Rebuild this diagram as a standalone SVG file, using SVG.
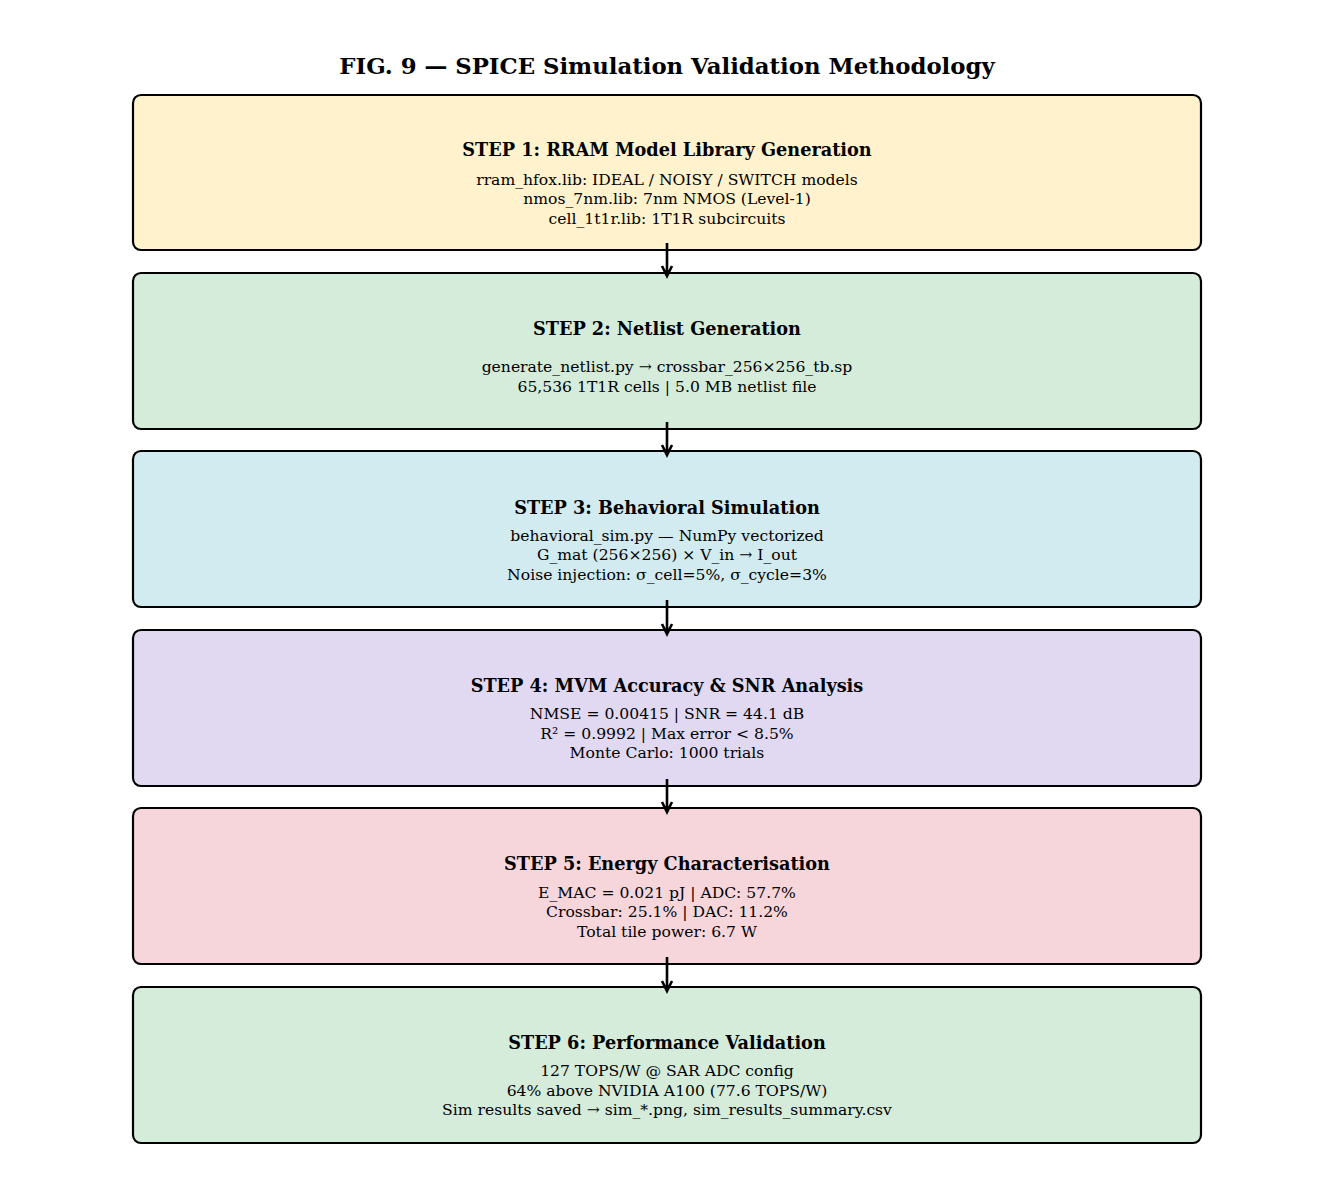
<svg xmlns="http://www.w3.org/2000/svg" width="1335" height="1185" viewBox="0 0 1335 1185">
<style>
.b{stroke:#000;stroke-width:2.2}
text{font-family:"DejaVu Serif",serif;text-anchor:middle;fill:#000}
.t{font-size:17.7px;font-weight:bold}
.s{font-size:15.6px}
.h{font-size:22.8px;font-weight:bold}
.a{stroke:#000;stroke-width:2.6;fill:none}
</style>
<rect width="1335" height="1185" fill="#fff"/>
<text class="h" x="667" y="74">FIG. 9 — SPICE Simulation Validation Methodology</text>
<g id="step1"><rect class="b" x="133" y="95" width="1068" height="155" rx="8" fill="#fff2cc"/>
<text class="t" x="667" y="156">STEP 1: RRAM Model Library Generation</text>
<text class="s" x="667" y="185">rram_hfox.lib: IDEAL / NOISY / SWITCH models</text>
<text class="s" x="667" y="204">nmos_7nm.lib: 7nm NMOS (Level-1)</text>
<text class="s" x="667" y="224">cell_1t1r.lib: 1T1R subcircuits</text></g>
<g id="step2"><rect class="b" x="133" y="273" width="1068" height="156" rx="8" fill="#d5ecdb"/>
<text class="t" x="667" y="335">STEP 2: Netlist Generation</text>
<text class="s" x="667" y="372">generate_netlist.py → crossbar_256×256_tb.sp</text>
<text class="s" x="667" y="392">65,536 1T1R cells | 5.0 MB netlist file</text></g>
<g id="step3"><rect class="b" x="133" y="451" width="1068" height="156" rx="8" fill="#d2ebf0"/>
<text class="t" x="667" y="514">STEP 3: Behavioral Simulation</text>
<text class="s" x="667" y="541">behavioral_sim.py — NumPy vectorized</text>
<text class="s" x="667" y="560">G_mat (256×256) × V_in → I_out</text>
<text class="s" x="667" y="580">Noise injection: σ_cell=5%, σ_cycle=3%</text></g>
<g id="step4"><rect class="b" x="133" y="630" width="1068" height="156" rx="8" fill="#e1d9f1"/>
<text class="t" x="667" y="692">STEP 4: MVM Accuracy &amp; SNR Analysis</text>
<text class="s" x="667" y="719">NMSE = 0.00415 | SNR = 44.1 dB</text>
<text class="s" x="667" y="739">R² = 0.9992 | Max error &lt; 8.5%</text>
<text class="s" x="667" y="758">Monte Carlo: 1000 trials</text></g>
<g id="step5"><rect class="b" x="133" y="808" width="1068" height="156" rx="8" fill="#f7d6db"/>
<text class="t" x="667" y="870">STEP 5: Energy Characterisation</text>
<text class="s" x="667" y="898">E_MAC = 0.021 pJ | ADC: 57.7%</text>
<text class="s" x="667" y="917">Crossbar: 25.1% | DAC: 11.2%</text>
<text class="s" x="667" y="937">Total tile power: 6.7 W</text></g>
<g id="step6"><rect class="b" x="133" y="987" width="1068" height="156" rx="8" fill="#d5ecdb"/>
<text class="t" x="667" y="1049">STEP 6: Performance Validation</text>
<text class="s" x="667" y="1076">127 TOPS/W @ SAR ADC config</text>
<text class="s" x="667" y="1096">64% above NVIDIA A100 (77.6 TOPS/W)</text>
<text class="s" x="667" y="1115">Sim results saved → sim_*.png, sim_results_summary.csv</text></g>
<g id="connectors">
<path class="a" d="M667 243V276M662 266L667 276L672 266"/>
<path class="a" d="M667 422V455M662 445L667 455L672 445"/>
<path class="a" d="M667 600V634M662 624L667 634L672 624"/>
<path class="a" d="M667 779V812M662 802L667 812L672 802"/>
<path class="a" d="M667 957V991M662 981L667 991L672 981"/>
</g>
</svg>
